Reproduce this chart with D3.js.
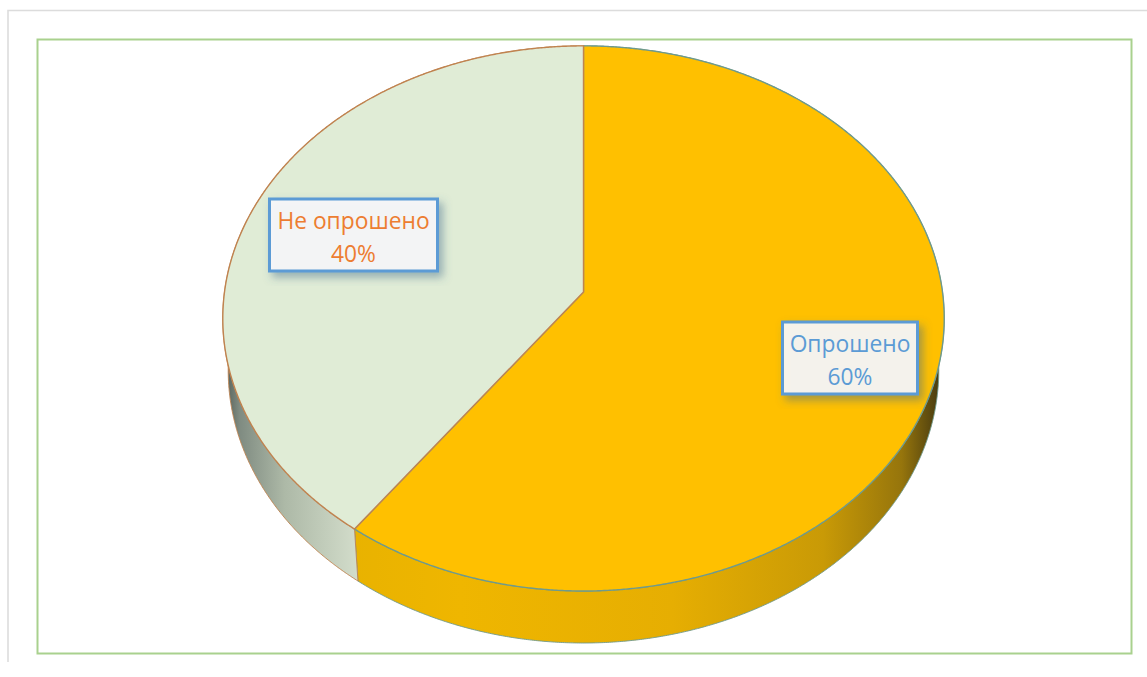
<!DOCTYPE html>
<html>
<head>
<meta charset="utf-8">
<script src="https://cdn.jsdelivr.net/npm/d3@7"></script>
<style>
  html, body { margin: 0; background: #fff; }
  svg { display: block; }
</style>
</head>
<body>
<div id="chart"></div>
<script>
const categories = ['Опрошено', 'Не опрошено'];
const values = [60, 40];
const valueLabels = ['60%', '40%'];
const sliceColors = ['#FFC000', '#E0ECD6'];
const edgeColors = ['#6f9a8c', '#c08350'];
const labelColors = ['#5B9BD5', '#ED7D31'];

const width = 1147;
const height = 677;

// pie plane, tilted: far side is smaller, so the hub is not at the ellipse centre
const hubX = 583.5;
const hubY = 292;
const radiusX = 359;
const radiusY = 270;
const tilt = 0.097;
const depth = 52;
const bottomScale = 0.985;

const svg = d3.select('#chart').append('svg')
  .attr('width', width)
  .attr('height', height);

const defs = svg.append('defs');

const shadow = defs.append('filter')
  .attr('id', 'label-shadow')
  .attr('x', '-10%').attr('y', '-10%')
  .attr('width', '125%').attr('height', '130%');
shadow.append('feDropShadow')
  .attr('dx', 4).attr('dy', 5)
  .attr('stdDeviation', 4)
  .attr('flood-color', '#3f6a8c')
  .attr('flood-opacity', 0.5);

// side wall shading runs left to right
const sideGradient = (id, x1, x2, stops) => {
  const g = defs.append('linearGradient')
    .attr('id', id)
    .attr('gradientUnits', 'userSpaceOnUse')
    .attr('x1', x1).attr('x2', x2)
    .attr('y1', 0).attr('y2', 0);
  stops.forEach(s => g.append('stop').attr('offset', s[0]).attr('stop-color', s[1]));
};
sideGradient('side-0', 340, 944, [[0, '#e8b200'], [0.2, '#efb600'], [0.55, '#e6ae02'], [0.8, '#c99a06'], [0.93, '#96750c'], [1, '#3f3410']]);
sideGradient('side-1', 223, 360, [[0, '#4f5952'], [0.12, '#7f8b81'], [0.45, '#adb9a7'], [1, '#d4decc']]);

const project = (angle, r, lower) => {
  const u = r * Math.sin(angle);
  const v = r * Math.cos(angle);
  const w = 1 + tilt * v;
  const scale = lower ? bottomScale : 1;
  return [
    hubX + scale * radiusX * u / w,
    hubY - radiusY * v / w + (lower ? depth : 0)
  ];
};

const arcAngles = d => d3.range(d.startAngle, d.endAngle, 0.005).concat([d.endAngle]);

const pie = d3.pie().sort(null).startAngle(0).endAngle(2 * Math.PI);
const slices = pie(values);
const line = d3.line();

// outer frames
svg.append('path')
  .attr('d', line([[8, 662], [8, 10.5], [width, 10.5]]))
  .attr('fill', 'none')
  .attr('stroke', '#dcdcdc')
  .attr('stroke-width', 1.6);

svg.append('rect')
  .attr('x', 37.5).attr('y', 39.5)
  .attr('width', 1094).attr('height', 614)
  .attr('fill', '#fff')
  .attr('stroke', '#A9D18E')
  .attr('stroke-width', 2);

// side walls first, top face is painted over their hidden part
svg.append('g').selectAll('path')
  .data(slices)
  .join('path')
  .attr('d', d => {
    const angles = arcAngles(d);
    const top = angles.map(a => project(a, 1, false));
    const bottom = angles.slice().reverse().map(a => project(a, 1, true));
    return line(top.concat(bottom)) + 'Z';
  })
  .attr('fill', (d, i) => `url(#side-${i})`)
  .attr('stroke', (d, i) => edgeColors[i])
  .attr('stroke-width', 0.9);

svg.append('g').selectAll('path')
  .data(slices)
  .join('path')
  .attr('d', d => {
    const rim = arcAngles(d).map(a => project(a, 1, false));
    return line([project(0, 0, false)].concat(rim)) + 'Z';
  })
  .attr('fill', (d, i) => sliceColors[i])
  .attr('stroke', (d, i) => edgeColors[i])
  .attr('stroke-width', 1.4);

// data labels
const labelBoxes = [
  { cx: 850, cy: 358, w: 135, h: 72 },
  { cx: 353.5, cy: 235, w: 168, h: 72 }
];

const labels = svg.append('g').selectAll('g')
  .data(slices)
  .join('g')
  .attr('transform', (d, i) => `translate(${labelBoxes[i].cx},${labelBoxes[i].cy})`);

labels.append('rect')
  .attr('x', (d, i) => -labelBoxes[i].w / 2)
  .attr('y', (d, i) => -labelBoxes[i].h / 2)
  .attr('width', (d, i) => labelBoxes[i].w)
  .attr('height', (d, i) => labelBoxes[i].h)
  .attr('fill', '#f7f7fa')
  .attr('fill-opacity', 0.92)
  .attr('stroke', '#5B9BD5')
  .attr('stroke-width', 3)
  .attr('filter', 'url(#label-shadow)');

labels.append('text')
  .attr('text-anchor', 'middle')
  .attr('font-family', '"Open Sans", sans-serif')
  .attr('font-size', 22.8)
  .attr('fill', (d, i) => labelColors[i])
  .selectAll('tspan')
  .data((d, i) => [categories[i], valueLabels[i]])
  .join('tspan')
  .attr('x', 0)
  .attr('y', (d, i) => i === 0 ? -6 : 27)
  .text(d => d);
</script>
</body>
</html>
